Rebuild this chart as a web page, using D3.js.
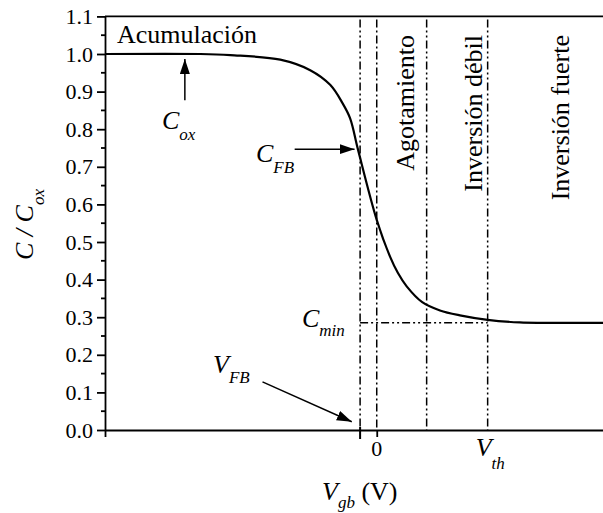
<!DOCTYPE html>
<html>
<head>
<meta charset="utf-8">
<script src="https://cdnjs.cloudflare.com/ajax/libs/d3/7.8.5/d3.min.js"></script>
<style>
body{margin:0;background:#fff;}
svg text{font-family:"Liberation Serif","DejaVu Serif",serif;fill:#000;}
</style>
</head>
<body>
<div id="chart"></div>
<script>
// curva C/Cox frente a Vgb
var vgb    = [-2.45, -1.59, -1.32, -0.87, -0.60, -0.42, -0.31, -0.24, -0.17, 0.00, 0.12, 0.19, 0.27, 0.41, 0.57, 0.75, 1.00, 1.29, 1.51, 2.04];
var cRatio = [1.000, 1.000, 0.997, 0.985, 0.957, 0.918, 0.870, 0.829, 0.747, 0.559, 0.461, 0.418, 0.382, 0.340, 0.318, 0.305, 0.293, 0.286, 0.285, 0.285];

var yTicks = [0.0, 0.1, 0.2, 0.3, 0.4, 0.5, 0.6, 0.7, 0.8, 0.9, 1.0, 1.1];
var yMinor = [0.05, 0.15, 0.25, 0.35, 0.45, 0.55, 0.65, 0.75, 0.85, 0.95, 1.05];

var vFB = -0.15, vWeak = 0.45, vTh = 1.0;
var cFB = 0.747, cMin = 0.285;
var regions = ["Agotamiento", "Inversión débil", "Inversión fuerte"];
var regionX = [0.255, 0.865, 1.65];

var W = 603, H = 513;
var mLeft = 105, mRight = 603, mTop = 16.4, mBottom = 430;

var x = d3.scaleLinear().domain([-2.45, 2.04]).range([mLeft, mRight]);
var y = d3.scaleLinear().domain([0, 1.1]).range([mBottom, mTop]);

var svg = d3.select("#chart").append("svg").attr("width", W).attr("height", H);

var defs = svg.append("defs");
defs.append("marker").attr("id", "arr")
    .attr("markerUnits", "userSpaceOnUse")
    .attr("markerWidth", 16).attr("markerHeight", 11)
    .attr("refX", 15).attr("refY", 5).attr("orient", "auto")
    .append("path").attr("d", "M0,0 L15,5 L0,10 z").attr("fill", "#000");

// lineas de referencia
var dd = "8,3,2,3,2,3";
var vlines = [{v: vFB, dash: dd}, {v: 0, dash: "8,3,2,3"}, {v: vWeak, dash: dd}, {v: vTh, dash: dd}];
svg.selectAll(".vl").data(vlines).enter().append("line")
    .attr("x1", function(d){return x(d.v);}).attr("x2", function(d){return x(d.v);})
    .attr("y1", mTop + 3).attr("y2", mBottom)
    .attr("stroke", "#000").attr("stroke-width", 1.5)
    .attr("stroke-dasharray", function(d){return d.dash;});

svg.append("line")
    .attr("x1", x(vFB)).attr("x2", x(vTh))
    .attr("y1", y(cMin)).attr("y2", y(cMin))
    .attr("stroke", "#000").attr("stroke-width", 1.5)
    .attr("stroke-dasharray", dd);

// ejes
var yAxis = d3.axisLeft(y).tickValues(yTicks).tickFormat(d3.format(".1f")).tickSize(8).tickSizeOuter(0).tickPadding(4);
var gy = svg.append("g").attr("transform", "translate(" + mLeft + ",0)").call(yAxis);
gy.attr("font-family", null);
gy.selectAll("text").attr("font-size", 22);
gy.selectAll("line, path").attr("stroke-width", 1.8);
gy.selectAll(".minor").data(yMinor).enter().append("line")
    .attr("x1", -4).attr("x2", 0)
    .attr("y1", function(d){return y(d);}).attr("y2", function(d){return y(d);})
    .attr("stroke", "#000").attr("stroke-width", 1.8);

var xAxis = d3.axisBottom(x).tickValues([x.domain()[0], 0]).tickFormat("").tickSize(7).tickSizeOuter(0);
var gx = svg.append("g").attr("transform", "translate(0," + mBottom + ")").call(xAxis);
gx.selectAll("line, path").attr("stroke-width", 1.8);
gx.append("line").attr("x1", x(vFB)).attr("x2", x(vFB)).attr("y1", -3).attr("y2", 9)
    .attr("stroke", "#000").attr("stroke-width", 2);

svg.append("line").attr("x1", mLeft).attr("x2", mRight).attr("y1", mTop).attr("y2", mTop)
    .attr("stroke", "#000").attr("stroke-width", 1.8);

// curva
var line = d3.line().x(function(d){return x(d[0]);}).y(function(d){return y(d[1]);}).curve(d3.curveCatmullRom.alpha(0.5));
svg.append("path").datum(d3.zip(vgb, cRatio))
    .attr("d", line).attr("fill", "none").attr("stroke", "#000").attr("stroke-width", 2.2);

// texto con subindice
function sublabel(px, py, main, sub, size, subSize, shift){
    var t = svg.append("text").attr("x", px).attr("y", py);
    t.append("tspan").attr("font-style", "italic").attr("font-size", size).text(main);
    t.append("tspan").attr("font-style", "italic").attr("font-size", subSize).attr("dy", shift).text(sub);
    return t;
}

svg.append("text").attr("x", 117).attr("y", 43).attr("font-size", 26).text("Acumulación");

svg.selectAll(".reg").data(regions).enter().append("text")
    .attr("transform", function(d, i){return "translate(" + (x(regionX[i]) + 9) + ",35) rotate(-90)";})
    .attr("text-anchor", "end").attr("font-size", 26).text(function(d){return d;});

// anotaciones
svg.append("line").attr("x1", x(-1.73)).attr("x2", x(-1.73)).attr("y1", y(0.877)).attr("y2", y(0.987))
    .attr("stroke", "#000").attr("stroke-width", 1.5).attr("marker-end", "url(#arr)");
sublabel(162, 129, "C", "ox", 26, 17, 11);

svg.append("line").attr("x1", x(-0.74)).attr("x2", x(-0.2)).attr("y1", y(cFB)).attr("y2", y(cFB))
    .attr("stroke", "#000").attr("stroke-width", 1.5).attr("marker-end", "url(#arr)");
sublabel(256, 162, "C", "FB", 26, 17, 11);

svg.append("line").attr("x1", x(-1.03)).attr("x2", x(-0.225)).attr("y1", y(0.128)).attr("y2", y(0.022))
    .attr("stroke", "#000").attr("stroke-width", 1.5).attr("marker-end", "url(#arr)");
sublabel(213, 373, "V", "FB", 26, 17, 10);

sublabel(302, 327, "C", "min", 26, 17, 9);

// etiquetas del eje x
svg.append("text").attr("x", x(0)).attr("y", 456).attr("text-anchor", "middle").attr("font-size", 22).text("0");
sublabel(x(vTh) - 12, 456, "V", "th", 26, 17, 13);

var xt = sublabel(322, 500, "V", "gb", 26, 17, 8);
xt.append("tspan").attr("font-size", 26).attr("dy", -8).text(" (V)");

var yt = svg.append("text").attr("transform", "translate(33,260) rotate(-90)");
yt.append("tspan").attr("font-style", "italic").attr("font-size", 26).text("C / C");
yt.append("tspan").attr("font-style", "italic").attr("font-size", 17).attr("dy", 11).text("ox");
</script>
</body>
</html>
